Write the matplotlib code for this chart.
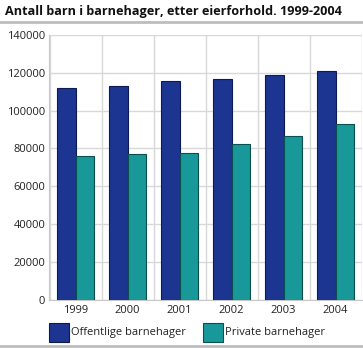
import matplotlib
matplotlib.use("Agg")
import matplotlib.pyplot as plt
import numpy as np
from matplotlib.lines import Line2D

plt.rcParams['font.family'] = ['Open Sans', 'DejaVu Sans']

years = ["1999", "2000", "2001", "2002", "2003", "2004"]
offentlige = [111800, 113200, 115500, 116600, 118800, 120800]
private = [76100, 76900, 77400, 82200, 86500, 92700]
series_names = ["Offentlige barnehager", "Private barnehager"]

blue = "#1b3591"
teal = "#19989a"

fig = plt.figure(figsize=(3.63, 3.48), dpi=100)
ax = fig.add_axes([49.5 / 363, 1 - 299.5 / 348, 312 / 363, 264.5 / 348])

x = np.arange(len(years))
w = 0.35
ax.bar(x - w / 2, offentlige, w, color=blue, edgecolor="#0d1c50", linewidth=0.8, zorder=3)
ax.bar(x + w / 2, private, w, color=teal, edgecolor="#0c4f50", linewidth=0.8, zorder=3)

ax.set_xlim(-0.5, len(years) - 0.5)
ax.set_ylim(0, 140000)
ax.set_yticks(np.arange(0, 140001, 20000))
ax.set_xticks(x)
ax.set_xticklabels(years)

# vertical separators between year groups
ax.set_xticks(np.arange(-0.5, len(years), 1), minor=True)
ax.grid(axis="y", color="#d8d8d8", linewidth=1.0, zorder=0)
ax.grid(axis="x", which="minor", color="#d8d8d8", linewidth=1.0, zorder=0)

for s in ["top", "right"]:
    ax.spines[s].set_visible(False)
ax.spines["left"].set_color("#c8c8c8")
ax.spines["bottom"].set_color("#c8c8c8")
ax.tick_params(axis="both", which="both", length=0, labelsize=8, colors="#222222")
ax.tick_params(axis="x", pad=4)
ax.tick_params(axis="y", pad=3)

fig.text(5 / 363, 1 - 11 / 348, "Antall barn i barnehager, etter eierforhold. 1999-2004",
         fontsize=9.1, fontweight="bold", va="center", ha="left", color="#111111")
fig.add_artist(Line2D([0, 1], [1 - 22 / 348] * 2, color="#bdbdbd", linewidth=2))
fig.add_artist(Line2D([0, 1], [1 - 345.5 / 348] * 2, color="#bdbdbd", linewidth=2))

# legend
for px, col, ec, name in [(49, blue, "#0d1c50", series_names[0]),
                          (203, teal, "#0c4f50", series_names[1])]:
    fig.patches.append(plt.Rectangle((px / 363, 1 - 342 / 348), 20 / 363, 19 / 348,
                                     transform=fig.transFigure, facecolor=col,
                                     edgecolor=ec, linewidth=0.8))
    fig.text((px + 22) / 363, 1 - 332.5 / 348, name, fontsize=8, va="center",
             ha="left", color="#222222")

fig.savefig("out.png", dpi=100)
